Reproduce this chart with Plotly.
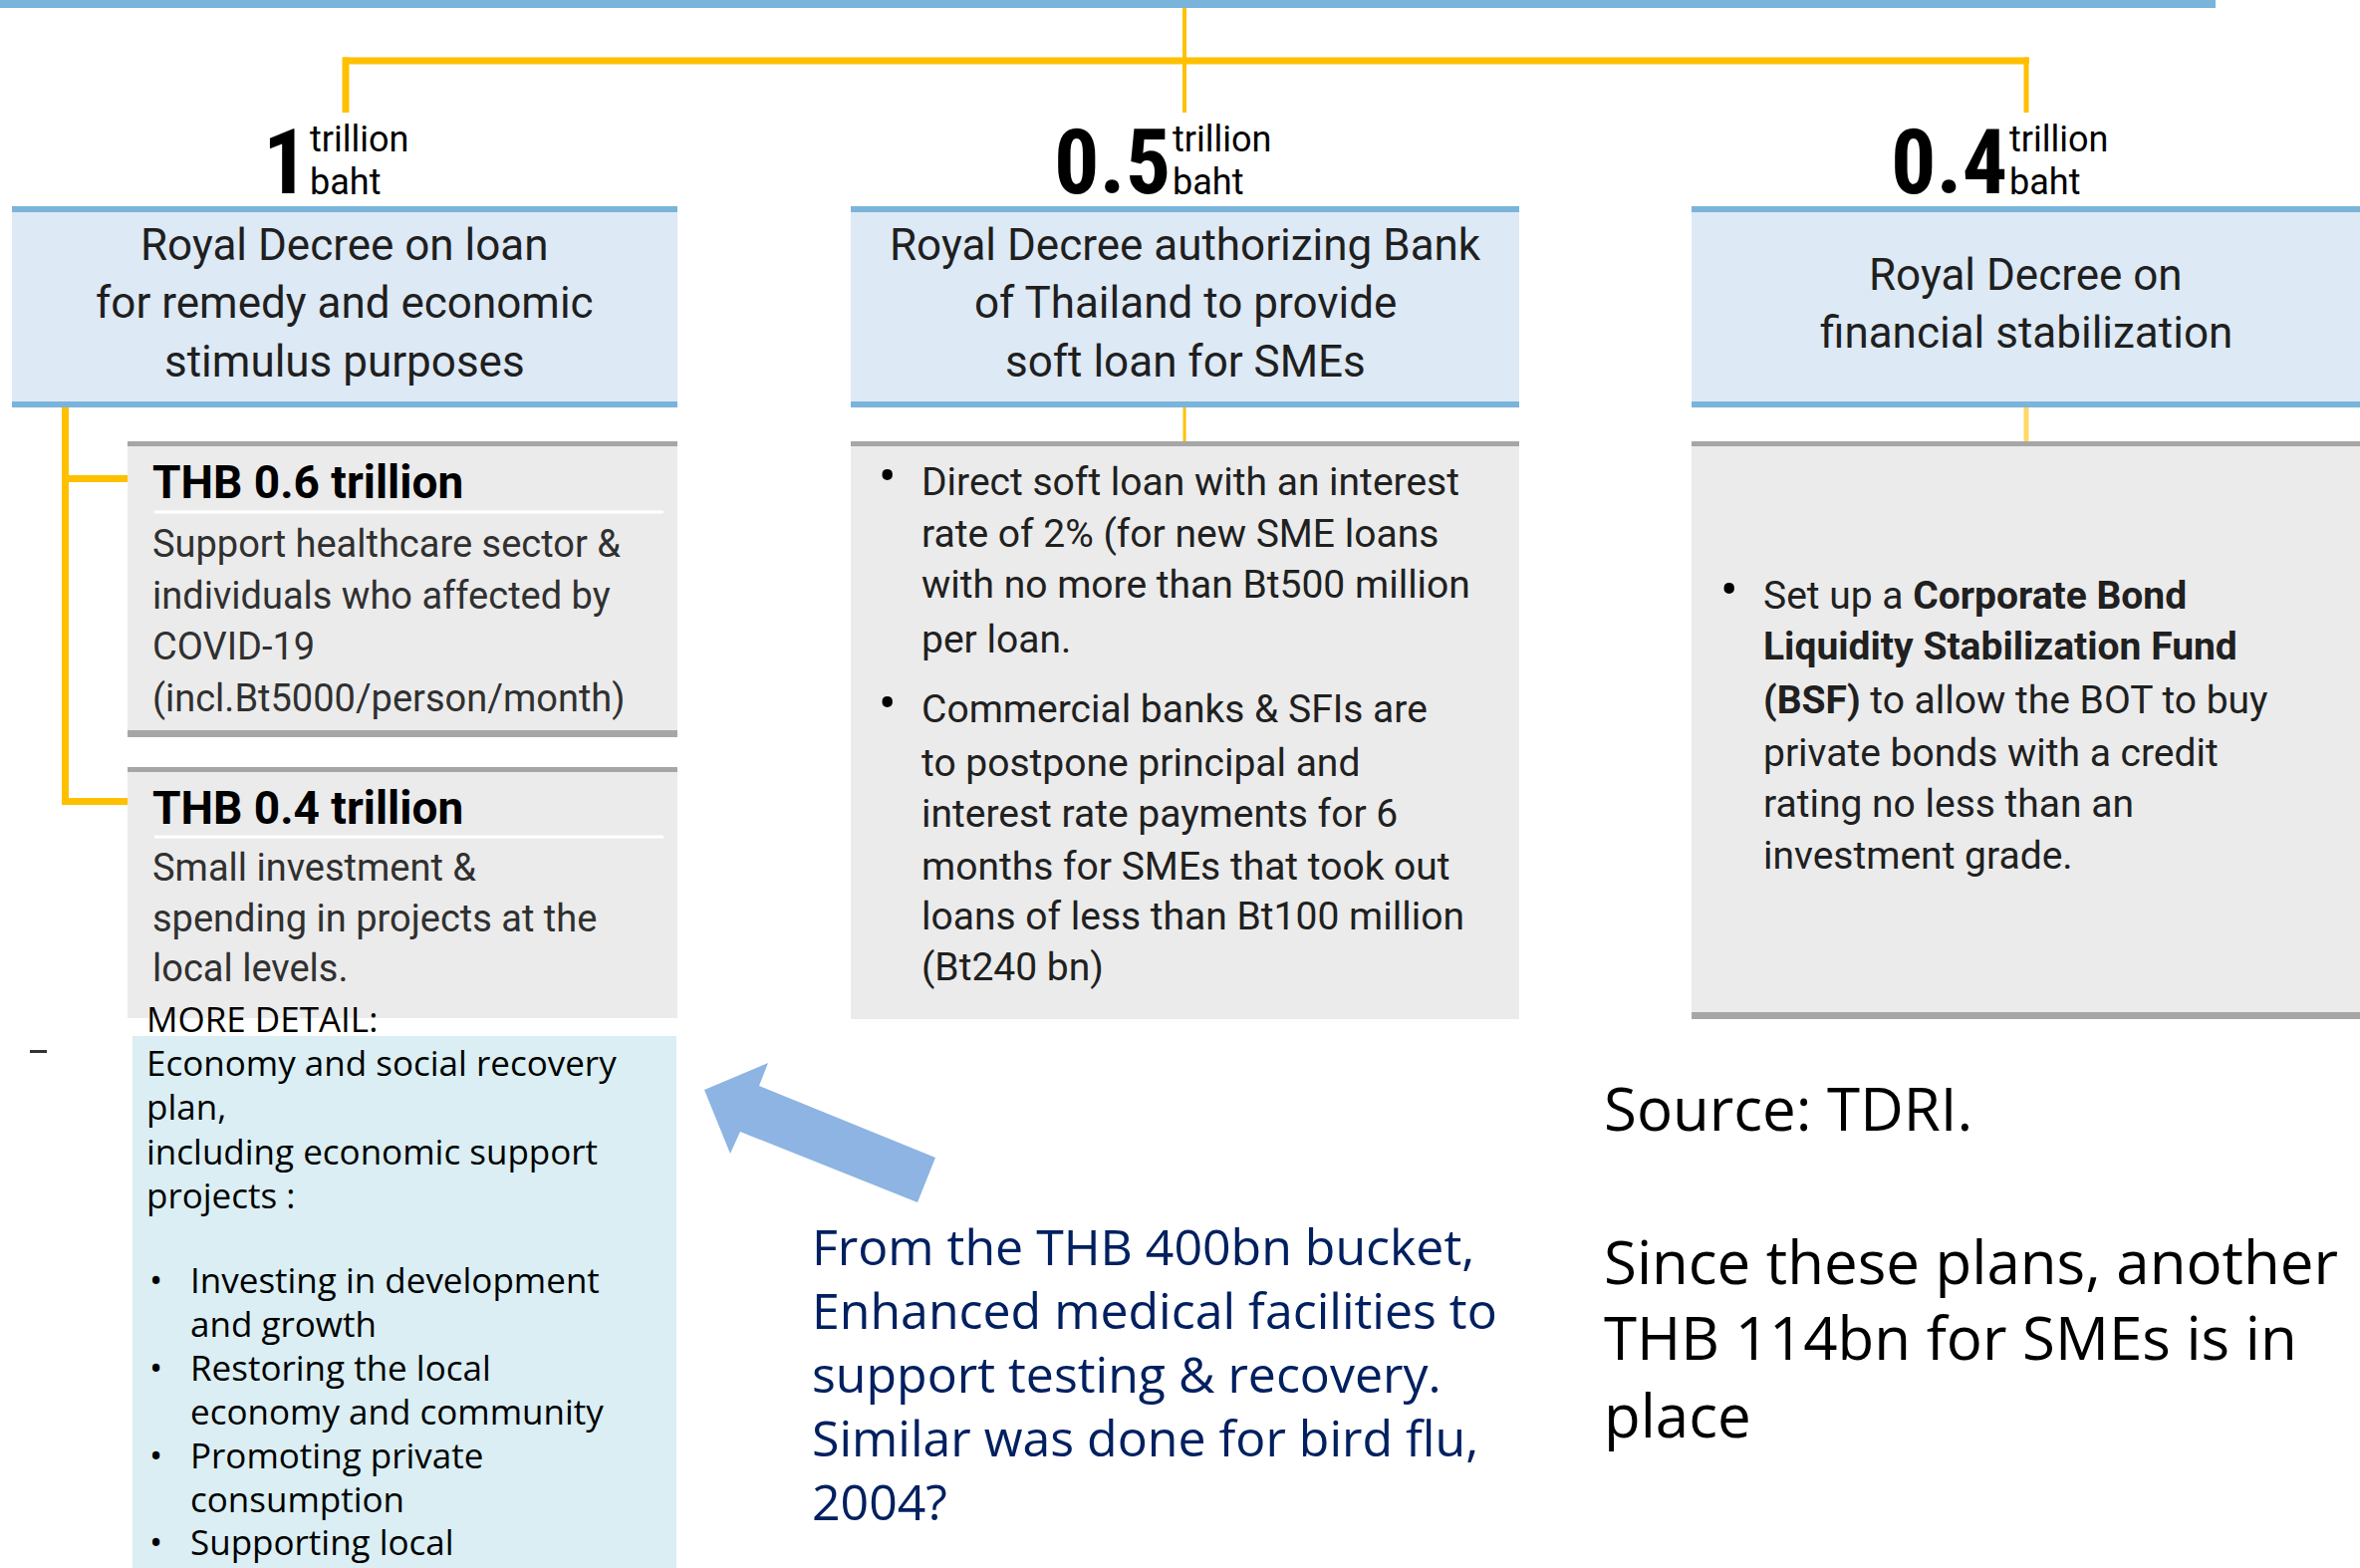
import plotly.graph_objects as go

W, H = 2369, 1574

# ---------------- data (text content) ----------------
amounts = ["1", "0.5", "0.4"]
unit_lines = ["trillion", "baht"]
decree_titles = [
    ["Royal Decree on loan", "for remedy and economic", "stimulus purposes"],
    ["Royal Decree authorizing Bank", "of Thailand to provide", "soft loan for SMEs"],
    ["Royal Decree on", "financial stabilization"],
]
sub_titles = ["THB 0.6 trillion", "THB 0.4 trillion"]
sub_texts = [
    ["Support healthcare sector &", "individuals who affected by", "COVID-19",
     "(incl.Bt5000/person/month)"],
    ["Small investment &", "spending in projects at the", "local levels."],
]
soft_loan_bullets = [
    ["Direct soft loan with an interest", "rate of 2% (for new SME loans",
     "with no more than Bt500 million", "per loan."],
    ["Commercial banks & SFIs are", "to postpone principal and",
     "interest rate payments for 6", "months for SMEs that took out",
     "loans of less than Bt100 million", "(Bt240 bn)"],
]
stabilization_bullet = [
    "Set up a <b>Corporate Bond</b>", "<b>Liquidity Stabilization Fund</b>",
    "<b>(BSF)</b> to allow the BOT to buy", "private bonds with a credit",
    "rating no less than an", "investment grade.",
]
more_detail_title = "MORE DETAIL:"
more_detail_intro = ["Economy and social recovery", "plan,",
                     "including economic support", "projects :"]
more_detail_bullets = [
    ["Investing in development", "and growth"],
    ["Restoring the local", "economy and community"],
    ["Promoting private", "consumption"],
    ["Supporting local"],
]
note_lines = ["From the THB 400bn bucket,", "Enhanced medical facilities to",
              "support testing & recovery.", "Similar was done for bird flu,", "2004?"]
source_lines = ["Source: TDRI.", "", "Since these plans, another",
                "THB 114bn for SMEs is in", "place"]

# ---------------- styles ----------------
NUM_FONT = "Roboto Condensed, Roboto, sans-serif"
BOX_FONT = "Roboto, sans-serif"
SEG_FONT = "Open Sans, Noto Sans, sans-serif"
YELLOW = "#FFC000"
BLUE_LINE = "#7AB4DB"
BLUE_FILL = "#DDE9F5"
GRAY_FILL = "#EBEBEB"
GRAY_LINE = "#A6A6A6"
CYAN_FILL = "#DAEEF3"
NAVY = "#002060"

shapes = []
annotations = []


def rect(x0, y0, x1, y1, fill):
    shapes.append(dict(type="rect", xref="x", yref="y", x0=x0, y0=y0, x1=x1, y1=y1,
                       fillcolor=fill, line=dict(width=0), layer="below"))


def txt(x, y, s, size, color="#262626", family=BOX_FONT, xanchor="left"):
    annotations.append(dict(x=x, y=y, xref="x", yref="y", text=s, showarrow=False,
                            font=dict(size=size, color=color, family=family),
                            xanchor=xanchor, yanchor="middle", align="left",
                            borderpad=0))


# top blue band
rect(0, 0, 2224, 8, BLUE_LINE)

# yellow tree
rect(344, 57.5, 2037, 64.5, YELLOW)
rect(343.5, 57.5, 350.5, 113, YELLOW)
rect(1187, 8, 1191, 113, YELLOW)
rect(2031.5, 57.5, 2036.5, 113, YELLOW)

# header boxes
header_x = [(12, 680), (854, 1525), (1698, 2369)]
for (x0, x1) in header_x:
    rect(x0, 207, x1, 409, BLUE_FILL)
    rect(x0, 207, x1, 213, BLUE_LINE)
    rect(x0, 403, x1, 409, BLUE_LINE)

# amounts
unit_x = [312, 1178, 2018]
for a, ux in zip(amounts, unit_x):
    txt(ux - 2, 163, "<b>%s</b>" % a, 90, "#000000", NUM_FONT, "right")
    txt(ux - 2, 140, unit_lines[0], 36, "#000000", BOX_FONT)
    txt(ux - 2, 183, unit_lines[1], 36, "#000000", BOX_FONT)

# header titles
title_rows = [[246, 304, 363], [246, 304, 363], [276, 334]]
for (x0, x1), lines, rows in zip(header_x, decree_titles, title_rows):
    for s, yy in zip(lines, rows):
        txt((x0 + x1) / 2, yy, s, 44, "#1F1F1F", BOX_FONT, "center")

# connectors below headers
rect(62, 409, 69, 808, YELLOW)
rect(62, 477, 128, 484, YELLOW)
rect(62, 801, 128, 808, YELLOW)
rect(1187.5, 409, 1190.5, 443, YELLOW)
rect(2031.5, 409, 2036.5, 443, "#FFD966")

# sub boxes under box 1
rect(128, 443, 680, 740, GRAY_FILL)
rect(128, 443, 680, 448, GRAY_LINE)
rect(128, 733, 680, 740, GRAY_LINE)
rect(128, 770, 680, 1022, GRAY_FILL)
rect(128, 770, 680, 775, GRAY_LINE)
rect(155, 512.5, 666, 515.5, "#FFFFFF")
rect(155, 838.5, 666, 841.5, "#FFFFFF")

sub_title_y = [484, 811]
sub_text_rows = [[546, 598, 649, 701], [871, 922, 972]]
for t, ty, lines, rows in zip(sub_titles, sub_title_y, sub_texts, sub_text_rows):
    txt(152, ty, "<b>%s</b>" % t, 46, "#000000")
    for s, yy in zip(lines, rows):
        txt(152, yy, s, 38, "#303030")

# box 2 content
rect(854, 443, 1525, 1023, GRAY_FILL)
rect(854, 443, 1525, 448, GRAY_LINE)
b2_rows = [[484, 536, 587, 642], [712, 766, 817, 870, 920, 971]]
for lines, rows in zip(soft_loan_bullets, b2_rows):
    txt(891, rows[0] - 6, "•", 52, "#000000", BOX_FONT, "center")
    for s, yy in zip(lines, rows):
        txt(924, yy, s, 39, "#202020")

# box 3 content
rect(1698, 443, 2369, 1023, GRAY_FILL)
rect(1698, 443, 2369, 448, GRAY_LINE)
rect(1698, 1016, 2369, 1023, GRAY_LINE)
b3_rows = [598, 649, 703, 756, 807, 859]
txt(1736, b3_rows[0] - 6, "•", 52, "#000000", BOX_FONT, "center")
for s, yy in zip(stabilization_bullet, b3_rows):
    txt(1769, yy, s, 39, "#202020")

# more detail box
rect(133, 1040, 679, 1574, CYAN_FILL)
txt(146, 1022, more_detail_title, 35, "#000000", SEG_FONT)
intro_rows = [1066, 1110, 1155, 1199]
for s, yy in zip(more_detail_intro, intro_rows):
    txt(146, yy, s, 35, "#000000", SEG_FONT)
bullet_rows = [[1284, 1328], [1372, 1416], [1460, 1504], [1547]]
for lines, rows in zip(more_detail_bullets, bullet_rows):
    txt(156, rows[0], "•", 35, "#000000", SEG_FONT, "center")
    for s, yy in zip(lines, rows):
        txt(190, yy, s, 35, "#000000", SEG_FONT)

# small stray dash
rect(30, 1054, 47, 1057, "#333333")

# arrow
shapes.append(dict(type="path", xref="x", yref="y",
                   path="M707,1094 L771,1067 L762,1090 L939,1162 L921,1207 L743,1136 L733,1158 Z",
                   fillcolor="#8DB4E2", line=dict(width=0)))

# note text
note_rows = [1251, 1315, 1379, 1443, 1507]
for s, yy in zip(note_lines, note_rows):
    txt(814, yy, s, 50, NAVY, SEG_FONT)

# source text
src_rows = [1112, 1189, 1266, 1342, 1420]
for s, yy in zip(source_lines, src_rows):
    if s:
        txt(1609, yy, s, 60, "#000000", SEG_FONT)

fig = go.Figure()
fig.update_layout(
    width=W, height=H, autosize=False,
    margin=dict(l=0, r=0, t=0, b=0, pad=0),
    paper_bgcolor="#FFFFFF", plot_bgcolor="#FFFFFF",
    xaxis=dict(range=[0, W], visible=False, showgrid=False, zeroline=False, fixedrange=True),
    yaxis=dict(range=[H, 0], visible=False, showgrid=False, zeroline=False, fixedrange=True),
    shapes=shapes, annotations=annotations, showlegend=False,
)
fig.write_html("out.html", config={"displayModeBar": False},
               post_script="document.body.style.margin='0';document.body.style.overflow='hidden';")
